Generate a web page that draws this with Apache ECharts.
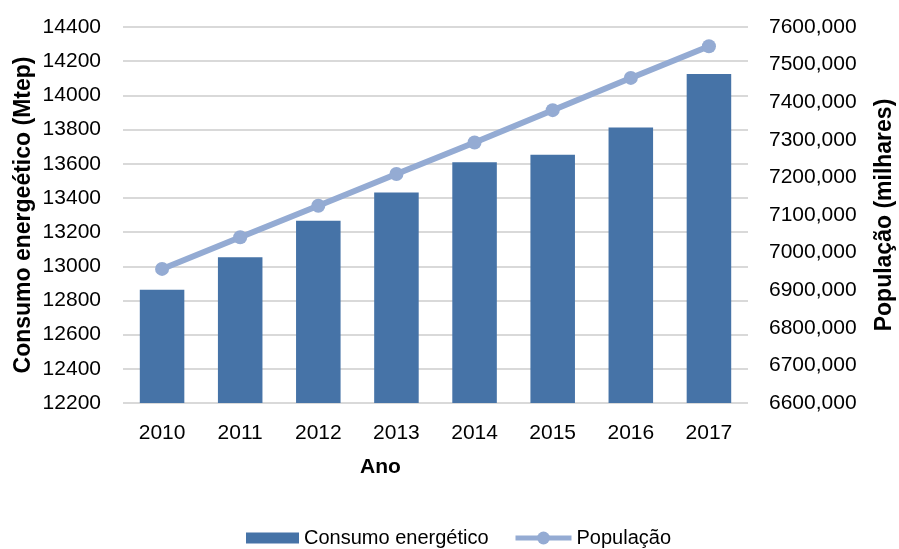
<!DOCTYPE html>
<html>
<head>
<meta charset="utf-8">
<script src="https://cdn.jsdelivr.net/npm/echarts@6/dist/echarts.min.js"></script>
<style>
  html, body { margin: 0; padding: 0; background: #fff; }
  #chart { width: 899px; height: 549px; }
</style>
</head>
<body>
<div id="chart"></div>
<script>
// Anos
const anos = ['2010', '2011', '2012', '2013', '2014', '2015', '2016', '2017'];
// Consumo energético (Mtep)
const consumo = [12862, 13053, 13267, 13432, 13609, 13652, 13812, 14125];
// População (milhares)
const populacao = [6956600, 7040800, 7124700, 7208900, 7293000, 7378800, 7464600, 7548800];

const FONT = '"Liberation Sans", Arial, sans-serif';
const barColor = '#4673A7';
const lineColor = '#94ABD3';

function fmtPop(v) {
  const hi = Math.floor(v / 1000);
  const lo = String(Math.round(v % 1000)).padStart(3, '0');
  return hi + ',' + lo;
}

const legendText = { fontFamily: FONT, fontSize: 20, color: '#000' };

const chart = echarts.init(document.getElementById('chart'));
chart.setOption({
  animation: false,
  textStyle: { fontFamily: FONT },
  grid: { left: 123, right: 151, top: 27, bottom: 146, containLabel: false, outerBoundsMode: 'none' },
  legend: [
    {
      left: 241,
      top: 523,
      itemWidth: 53,
      itemHeight: 11,
      textStyle: legendText,
      data: [{ name: 'Consumo energético', icon: 'rect' }]
    },
    {
      left: 508,
      top: 523,
      itemWidth: 56,
      itemHeight: 16,
      textStyle: legendText,
      data: [{ name: 'População' }],
      lineStyle: { width: 5 }
    }
  ],
  xAxis: {
    type: 'category',
    data: anos,
    name: 'Ano',
    nameLocation: 'middle',
    nameGap: 54,
    nameMoveOverlap: false,
    nameTextStyle: { fontFamily: FONT, fontSize: 21, fontWeight: 'bold', color: '#000', padding: [0, 110, 0, 0] },
    axisLine: { show: false },
    axisTick: { show: false },
    axisLabel: { fontFamily: FONT, fontSize: 21, color: '#000', margin: 20 }
  },
  yAxis: [
    {
      type: 'value',
      min: 12200,
      max: 14400,
      interval: 200,
      name: 'Consumo energeético (Mtep)',
      nameLocation: 'middle',
      nameGap: 88,
      nameMoveOverlap: false,
      nameTextStyle: { fontFamily: FONT, fontSize: 23, fontWeight: 'bold', color: '#000' },
      axisLine: { show: false },
      axisTick: { show: false },
      axisLabel: { fontFamily: FONT, fontSize: 21, color: '#000', margin: 22, formatter: (v) => String(v) },
      splitLine: { lineStyle: { color: '#d9d9d9', width: 2 } }
    },
    {
      type: 'value',
      min: 6600000,
      max: 7600000,
      interval: 100000,
      name: 'População (milhares)',
      nameLocation: 'middle',
      nameGap: 125,
      nameRotate: 90,
      nameMoveOverlap: false,
      nameTextStyle: { fontFamily: FONT, fontSize: 23, fontWeight: 'bold', color: '#000' },
      axisLine: { show: false },
      axisTick: { show: false },
      axisLabel: { fontFamily: FONT, fontSize: 21, color: '#000', margin: 21, formatter: fmtPop },
      splitLine: { show: false }
    }
  ],
  series: [
    {
      name: 'Consumo energético',
      type: 'bar',
      yAxisIndex: 0,
      data: consumo,
      barWidth: '57%',
      itemStyle: { color: barColor }
    },
    {
      name: 'População',
      type: 'line',
      yAxisIndex: 1,
      data: populacao,
      symbol: 'circle',
      symbolSize: 14,
      lineStyle: { color: lineColor, width: 6 },
      itemStyle: { color: lineColor }
    }
  ]
});
</script>
</body>
</html>
